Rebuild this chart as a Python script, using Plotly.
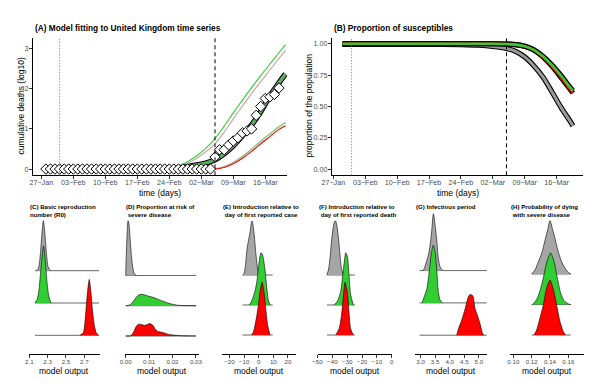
import pandas as pd
import plotly.graph_objects as go

# ======================= DATA =======================
date_tick_vals = ['2020-01-27', '2020-02-03', '2020-02-10', '2020-02-17',
                  '2020-02-24', '2020-03-02', '2020-03-09', '2020-03-16']
date_tick_text = ['27−Jan', '03−Feb', '10−Feb', '17−Feb',
                  '24−Feb', '02−Mar', '09−Mar', '16−Mar']
first_case_date = '2020-01-31'
first_death_date = '2020-03-05'

# (A) observed cumulative deaths (log10), one per day 28-Jan .. 19-Mar
obs_dates = pd.date_range('2020-01-28', '2020-03-19').strftime('%Y-%m-%d').tolist()
obs_log10_deaths = [0, 0, 0, 0, 0, 0, 0, 0, 0, 0,
                    0, 0, 0, 0, 0, 0, 0, 0, 0, 0,
                    0, 0, 0, 0, 0, 0, 0, 0, 0, 0,
                    0, 0, 0, 0, 0, 0, 0,
                    0.30, 0.48, 0.48, 0.60, 0.70, 0.78, 0.90, 0.95, 1.00,
                    1.34, 1.56, 1.76, 1.80, 1.86, 2.02]

# (A) model trajectories
fit_dates = ['2020-02-25', '2020-02-26', '2020-02-28', '2020-03-01', '2020-03-03',
             '2020-03-05', '2020-03-07', '2020-03-09', '2020-03-11', '2020-03-13',
             '2020-03-15', '2020-03-17', '2020-03-19', '2020-03-20 10:00']
fit_main = [0.02, 0.03, 0.06, 0.10, 0.15, 0.23, 0.38, 0.58, 0.83, 1.10, 1.43, 1.82, 2.15, 2.37]
fit_upper_green = [0.02, 0.06, 0.18, 0.33, 0.52, 0.76, 1.07, 1.40, 1.72, 2.03, 2.33, 2.62, 2.90, 3.10]
fit_upper_grey = [0.02, 0.05, 0.14, 0.27, 0.43, 0.63, 0.92, 1.25, 1.57, 1.88, 2.18, 2.47, 2.76, 2.96]
low_dates = ['2020-03-05', '2020-03-07', '2020-03-09', '2020-03-11', '2020-03-13',
             '2020-03-15', '2020-03-17', '2020-03-19', '2020-03-20 10:00']
fit_low_grey = [0.0, 0.06, 0.17, 0.32, 0.50, 0.70, 0.88, 1.06, 1.16]
fit_low_green = [0.0, 0.05, 0.16, 0.31, 0.49, 0.69, 0.87, 1.05, 1.15]
fit_low_red = [0.0, 0.04, 0.13, 0.27, 0.44, 0.63, 0.81, 0.99, 1.08]

# (B) proportion of susceptibles
sus_dates = ['2020-01-29', '2020-02-06', '2020-02-16', '2020-02-24', '2020-02-28',
             '2020-03-02', '2020-03-05', '2020-03-07', '2020-03-09', '2020-03-11',
             '2020-03-13', '2020-03-15', '2020-03-17', '2020-03-19', '2020-03-19 14:00']
sus_grey = [0.995, 0.995, 0.995, 0.993, 0.988, 0.978, 0.962, 0.94, 0.895, 0.825,
            0.735, 0.615, 0.49, 0.38, 0.345]
sus_green = [1.0, 1.0, 1.0, 1.0, 1.0, 1.0, 0.998, 0.993, 0.98, 0.952,
             0.90, 0.83, 0.745, 0.65, 0.625]
sus_red = [1.0, 1.0, 1.0, 1.0, 1.0, 1.0, 0.998, 0.993, 0.98, 0.95,
           0.895, 0.82, 0.73, 0.635, 0.607]

# (C) R0 densities
C_span = [2.162, 2.861]
C_grey_x = [2.18, 2.20, 2.215, 2.23, 2.242, 2.253, 2.264, 2.277, 2.29, 2.305, 2.33]
C_grey_h = [0, 0.08, 0.35, 0.85, 1.3, 1.55, 1.35, 0.9, 0.45, 0.12, 0]
C_green_x = [2.162, 2.187, 2.205, 2.222, 2.238, 2.256, 2.275, 2.296, 2.315, 2.337]
C_green_h = [0, 0.12, 0.4, 0.9, 1.4, 1.77, 1.28, 0.56, 0.18, 0]
C_red_x = [2.652, 2.689, 2.705, 2.72, 2.737, 2.754, 2.772, 2.79, 2.81, 2.83, 2.856]
C_red_h = [0, 0.08, 0.35, 0.85, 1.4, 1.73, 1.35, 0.75, 0.3, 0.08, 0]

# (D) proportion at risk of severe disease
D_span = [0.0, 0.030]
D_grey_x = [0.0, 0.0001, 0.0004, 0.0007, 0.001, 0.0014, 0.0019, 0.0025, 0.0031, 0.0037, 0.0045]
D_grey_h = [0, 0.35, 1.0, 1.55, 1.81, 1.7, 1.2, 0.6, 0.22, 0.06, 0]
D_green_x = [0.0, 0.001, 0.002, 0.003, 0.004, 0.005, 0.0065, 0.008, 0.010, 0.012,
             0.014, 0.016, 0.018, 0.020, 0.022, 0.025, 0.030]
D_green_h = [0, 0.01, 0.04, 0.12, 0.22, 0.32, 0.38, 0.36, 0.31, 0.27,
             0.21, 0.15, 0.09, 0.05, 0.02, 0.005, 0]
D_red_x = [0.0, 0.0022, 0.0035, 0.0045, 0.0055, 0.0068, 0.008, 0.0092, 0.0103, 0.0115,
           0.0125, 0.0135, 0.015, 0.0165, 0.018, 0.020, 0.022, 0.025, 0.030]
D_red_h = [0, 0.01, 0.15, 0.32, 0.39, 0.38, 0.35, 0.38, 0.41, 0.36,
           0.24, 0.16, 0.13, 0.10, 0.06, 0.035, 0.02, 0.005, 0]

# (E) introduction relative to first reported case
E_span = [-11, 9.6]
E_grey_x = [-11, -10, -9, -8, -7, -6, -5, -4.6, -4, -3, -2, -1, 0, 1]
E_grey_h = [0, 0.05, 0.35, 0.85, 1.15, 1.4, 1.75, 1.8, 1.7, 1.3, 0.75, 0.3, 0.05, 0]
E_green_x = [-6.4, -4.8, -2.5, -1.2, -0.2, 0.8, 1.6, 2.4, 3.2, 4.4, 5.5, 6.7, 7.8]
E_green_h = [0, 0.13, 0.47, 0.8, 1.24, 1.6, 1.74, 1.7, 1.55, 1.13, 0.58, 0.13, 0]
E_red_x = [-4.8, -3.5, -2.5, -1.3, -0.2, 0.9, 2.3, 3.6, 4.8, 6.1, 7.7]
E_red_h = [0, 0.12, 0.33, 0.65, 1.0, 1.44, 1.76, 1.44, 0.89, 0.33, 0]

# (F) introduction relative to first reported death
F_span = [-43.7, -24.7]
F_grey_x = [-43.7, -42.5, -41.5, -40.5, -39.5, -38.5, -37.8, -36.8, -35.8, -34.8, -33.8, -32.6, -31.5]
F_grey_h = [0, 0.2, 0.6, 1.15, 1.55, 1.78, 1.8, 1.6, 1.2, 0.65, 0.2, 0.03, 0]
F_green_x = [-38.8, -36.5, -34.3, -32.7, -31.8, -31.0, -29.9, -28.8, -27.7, -25.9]
F_green_h = [0, 0.13, 0.47, 1.13, 1.5, 1.74, 1.63, 1.02, 0.36, 0]
F_red_x = [-37.7, -35.4, -33.8, -32.5, -31.4, -29.9, -28.8, -27.7, -25.9]
F_red_h = [0, 0.22, 0.67, 1.33, 1.76, 1.44, 0.78, 0.22, 0]

# (G) infectious period
G_span = [2.97, 5.27]
G_grey_x = [3.08, 3.13, 3.22, 3.27, 3.33, 3.38, 3.44, 3.50, 3.56, 3.61, 3.67, 3.76]
G_grey_h = [0, 0.07, 0.33, 0.48, 0.8, 1.2, 1.76, 1.4, 0.9, 0.38, 0.12, 0]
G_green_x = [3.05, 3.13, 3.22, 3.31, 3.38, 3.44, 3.50, 3.56, 3.61, 3.67, 3.75]
G_green_h = [0, 0.2, 0.45, 1.07, 1.59, 1.79, 1.59, 0.97, 0.35, 0.09, 0]
G_red_x = [4.24, 4.30, 4.41, 4.53, 4.64, 4.70, 4.79, 4.87, 4.95, 5.04, 5.13, 5.18]
G_red_h = [0, 0.2, 0.46, 0.82, 1.19, 1.26, 1.22, 0.82, 0.62, 0.36, 0.05, 0]

# (H) probability of dying with severe disease
H_span = [0.12, 0.1626]
H_grey_x = [0.12, 0.1236, 0.1273, 0.131, 0.1346, 0.1375, 0.14, 0.1425, 0.1454, 0.149,
            0.1527, 0.1564, 0.16, 0.1626]
H_grey_h = [0, 0.13, 0.4, 0.68, 1.11, 1.45, 1.75, 1.5, 1.17, 0.73, 0.4, 0.19, 0.05, 0]
H_green_x = [0.121, 0.1254, 0.129, 0.1327, 0.1363, 0.1407, 0.1443, 0.148, 0.1516, 0.1552,
             0.16, 0.1626]
H_green_h = [0, 0.16, 0.44, 0.87, 1.37, 1.69, 1.42, 0.87, 0.38, 0.13, 0.02, 0]
H_red_x = [0.1225, 0.1254, 0.129, 0.1327, 0.1363, 0.14, 0.1429, 0.1454, 0.148, 0.1509,
           0.1545, 0.157]
H_red_h = [0, 0.16, 0.55, 0.98, 1.53, 1.8, 1.58, 1.26, 0.87, 0.44, 0.11, 0]

titles_top = ['(A) Model fitting to United Kingdom time series', '(B) Proportion of susceptibles']
titles_bottom = ['(C) Basic reproduction<br>number (R0)',
                 '(D) Proportion at risk of<br> severe disease',
                 '(E) Introduction relative to<br> day of first reported case',
                 '(F) Introduction relative to<br> day of first reported death',
                 '(G) Infectious period',
                 '(H) Probability of dying<br> with severe disease']
C_ticks = [2.1, 2.3, 2.5, 2.7]
D_ticks = [0.0, 0.01, 0.02, 0.03]
E_ticks = [-20, -10, 0, 10, 20]
F_ticks = [-50, -40, -30, -20, -10, 0]
G_ticks = [3.0, 3.5, 4.0, 4.5, 5.0]
H_ticks = [0.10, 0.12, 0.14, 0.16]
C_ticktext = ['2.1', '2.3', '2.5', '2.7']
D_ticktext = ['0.00', '0.01', '0.02', '0.03']
E_ticktext = ['−20', '−10', '0', '10', '20']
F_ticktext = ['−50', '−40', '−30', '−20', '−10', '0']
G_ticktext = ['3.0', '3.5', '4.0', '4.5', '5.0']
H_ticktext = ['0.10', '0.12', '0.14', '0.16']

# ======================= STYLE / LAYOUT =======================
W, H = 600, 383
FONT = 'Liberation Sans, Arial, sans-serif'
GREEN = '#32CD32'
RED = '#FF0000'
GREY = '#A6A6A6'
TICKC = '#4D4D4D'


def px_x(p):
    return p / W


def px_y(p):
    return 1 - p / H


def day_str(base, d):
    return (pd.Timestamp(base) + pd.Timedelta(days=d)).strftime('%Y-%m-%d %H:%M:%S')


fig = go.Figure()


def add_line(x, y, color, width, ax, shape='spline'):
    fig.add_trace(go.Scatter(x=x, y=y, mode='lines', xaxis='x' + ax, yaxis='y' + ax,
                             line=dict(color=color, width=width, shape=shape, smoothing=0.8),
                             hoverinfo='skip', showlegend=False))


# ---------- Panel A ----------
axA = ''
add_line(fit_dates, fit_upper_grey, '#C9A3A3', 1.1, axA)
add_line(fit_dates, fit_upper_green, GREEN, 1.1, axA)
add_line(low_dates, fit_low_grey, '#B0B0B0', 1.1, axA)
add_line(low_dates, fit_low_green, '#7FD27F', 1.1, axA)
add_line(low_dates, fit_low_red, RED, 1.1, axA)
add_line(fit_dates, fit_main, 'black', 5.5, axA)
add_line(fit_dates, fit_main, '#8F8F8F', 3.4, axA)
add_line(fit_dates, fit_main, GREEN, 1.5, axA)
fig.add_trace(go.Scatter(x=obs_dates, y=obs_log10_deaths, mode='markers',
                         marker=dict(symbol='diamond', size=8, color='white',
                                     line=dict(color='black', width=1)),
                         xaxis='x', yaxis='y', hoverinfo='skip', showlegend=False))

# ---------- Panel B ----------
axB = '2'
add_line(sus_dates, sus_grey, 'black', 5.2, axB)
add_line(sus_dates, sus_grey, '#9A9A9A', 3.0, axB)
add_line(sus_dates, sus_red, 'black', 5.2, axB)
add_line(sus_dates, sus_green, 'black', 5.2, axB)
add_line(sus_dates, sus_red, RED, 2.6, axB)
add_line(sus_dates, sus_green, GREEN, 2.6, axB)

top_y_dom = [px_y(175.3), px_y(37.5)]
axis_common = dict(showgrid=False, zeroline=False, showline=True, linecolor='black',
                   linewidth=0.9, ticks='outside', ticklen=3, tickwidth=0.9, tickcolor='#333333',
                   automargin=False,
                   tickfont=dict(family=FONT, size=7.2, color=TICKC))
layout = dict(
    width=W, height=H, margin=dict(l=0, r=0, t=0, b=0, pad=0), autosize=False,
    paper_bgcolor='white', plot_bgcolor='white', showlegend=False,
    font=dict(family=FONT),
)
layout['xaxis'] = dict(axis_common, type='date', domain=[px_x(33), px_x(287)],
                       range=[day_str('2020-01-27', -1.82), day_str('2020-01-27', 53.75)],
                       tickvals=date_tick_vals, ticktext=date_tick_text, anchor='y',
                       ticklabelstandoff=-3)
layout['yaxis'] = dict(axis_common, domain=top_y_dom, range=[-0.156, 3.28],
                       tickvals=[0, 1, 2, 3], ticktext=['0', '1', '2', '3'], anchor='x',
                       ticklabelstandoff=-1)
layout['xaxis2'] = dict(axis_common, type='date', domain=[px_x(332), px_x(583)],
                        range=[day_str('2020-01-27', -0.29), day_str('2020-01-27', 54.8)],
                        tickvals=date_tick_vals, ticktext=date_tick_text, anchor='y2',
                        ticklabelstandoff=-3)
layout['yaxis2'] = dict(axis_common, domain=top_y_dom, range=[-0.05, 1.05],
                        tickvals=[0, 0.25, 0.5, 0.75, 1.0],
                        ticktext=['0.00', '0.25', '0.50', '0.75', '1.00'], anchor='x2',
                        ticklabelstandoff=-1)

shapes = []
for ax in ['x', 'x2']:
    yref = 'y domain' if ax == 'x' else 'y2 domain'
    shapes.append(dict(type='line', xref=ax, yref=yref, x0=first_case_date, x1=first_case_date,
                       y0=0, y1=1, line=dict(color='#707070', width=1, dash='1px,2px')))
    shapes.append(dict(type='line', xref=ax, yref=yref, x0=first_death_date, x1=first_death_date,
                       y0=0, y1=1, line=dict(color='black', width=1, dash='4px,3px')))

# ---------- Bottom ridge panels ----------
bottom = [
    # name, span, densities, x-domain px, x-range, ticks, ticktext, red baseline px, spacing px
    ('C', C_span, [(C_grey_x, C_grey_h), (C_green_x, C_green_h), (C_red_x, C_red_h)],
     [29.3, 99.5], [2.1, 2.1 + (99.5 - 29.3) / 91.67], C_ticks, C_ticktext, 335.3, 32.3),
    ('D', D_span, [(D_grey_x, D_grey_h), (D_green_x, D_green_h), (D_red_x, D_red_h)],
     [125.0, 198.5], [-0.0003, 0.0311], D_ticks, D_ticktext, 336.0, 30.25),
    ('E', E_span, [(E_grey_x, E_grey_h), (E_green_x, E_green_h), (E_red_x, E_red_h)],
     [221.7, 296.0], [-25.3, 25.5], E_ticks, E_ticktext, 335.0, 30.0),
    ('F', F_span, [(F_grey_x, F_grey_h), (F_green_x, F_green_h), (F_red_x, F_red_h)],
     [317.5, 391.7], [-50, 0], F_ticks, F_ticktext, 335.0, 30.0),
    ('G', G_span, [(G_grey_x, G_grey_h), (G_green_x, G_green_h), (G_red_x, G_red_h)],
     [415.0, 487.3], [2.81, 5.29], G_ticks, G_ticktext, 335.2, 32.3),
    ('H', H_span, [(H_grey_x, H_grey_h), (H_green_x, H_green_h), (H_red_x, H_red_h)],
     [510.0, 584.3], [0.0964, 0.1774], H_ticks, H_ticktext, 335.0, 30.5),
]
fills = [GREY, GREEN, RED]
bot_axis_px, bot_top_px = 354.0, 212.0
annotations = []
for i, (name, span, dens, xdom, xr, tv, tt, red_px, sp) in enumerate(bottom):
    n = str(i + 3)
    for j, (xs, hs) in enumerate(dens):
        row = 2 - j
        fig.add_trace(go.Scatter(x=span, y=[row, row], mode='lines', xaxis='x' + n, yaxis='y' + n,
                                 line=dict(color='black', width=0.6), hoverinfo='skip',
                                 showlegend=False))
        fig.add_trace(go.Scatter(x=xs, y=[row + h for h in hs], mode='lines', fill='toself',
                                 fillcolor=fills[j], xaxis='x' + n, yaxis='y' + n,
                                 line=dict(color='black', width=0.6, shape='spline', smoothing=0.7),
                                 hoverinfo='skip', showlegend=False))
    layout['xaxis' + n] = dict(axis_common, domain=[px_x(xdom[0]), px_x(xdom[1])], range=xr,
                               tickvals=tv, ticktext=tt, anchor='y' + n, ticklabelstandoff=-1,
                               tickfont=dict(family=FONT, size=6.2, color=TICKC))
    layout['yaxis' + n] = dict(domain=[px_y(bot_axis_px), px_y(bot_top_px)],
                               range=[-(bot_axis_px - red_px) / sp, (red_px - bot_top_px) / sp],
                               visible=False, anchor='x' + n)
    annotations.append(dict(text=titles_bottom[i], xref='paper', yref='paper',
                            x=px_x(xdom[0] - 1), y=px_y(200.5), xanchor='left', yanchor='top',
                            align='left', showarrow=False,
                            font=dict(family=FONT, size=6.1, color='black', weight='bold')))
    annotations.append(dict(text='model output', xref='paper', yref='paper',
                            x=px_x((xdom[0] + xdom[1]) / 2), y=px_y(370.5), xanchor='center',
                            yanchor='middle', showarrow=False,
                            font=dict(family=FONT, size=8.5, color='black')))

annotations += [
    dict(text='<b>' + titles_top[0] + '</b>', xref='paper', yref='paper', x=px_x(33), y=px_y(28.3),
         xanchor='left', yanchor='middle', showarrow=False,
         font=dict(family=FONT, size=8.3, color='black')),
    dict(text='<b>' + titles_top[1] + '</b>', xref='paper', yref='paper', x=px_x(331.5), y=px_y(28.3),
         xanchor='left', yanchor='middle', showarrow=False,
         font=dict(family=FONT, size=8.3, color='black')),
    dict(text='time (days)', xref='paper', yref='paper', x=px_x(160), y=px_y(192.5),
         xanchor='center', yanchor='middle', showarrow=False,
         font=dict(family=FONT, size=8.5, color='black')),
    dict(text='time (days)', xref='paper', yref='paper', x=px_x(457.5), y=px_y(192.5),
         xanchor='center', yanchor='middle', showarrow=False,
         font=dict(family=FONT, size=8.5, color='black')),
    dict(text='cumulative deaths (log10)', xref='paper', yref='paper', x=px_x(20.5), y=px_y(106),
         xanchor='center', yanchor='middle', textangle=-90, showarrow=False,
         font=dict(family=FONT, size=8.5, color='black')),
    dict(text='proportion of the population', xref='paper', yref='paper', x=px_x(308.5), y=px_y(106),
         xanchor='center', yanchor='middle', textangle=-90, showarrow=False,
         font=dict(family=FONT, size=8.5, color='black')),
]
layout['annotations'] = annotations
layout['shapes'] = shapes
fig.update_layout(**layout)
fig.write_html('out.html', config={'responsive': False, 'displayModeBar': False},
               post_script="document.body.style.margin='0';document.body.style.padding='0';")
